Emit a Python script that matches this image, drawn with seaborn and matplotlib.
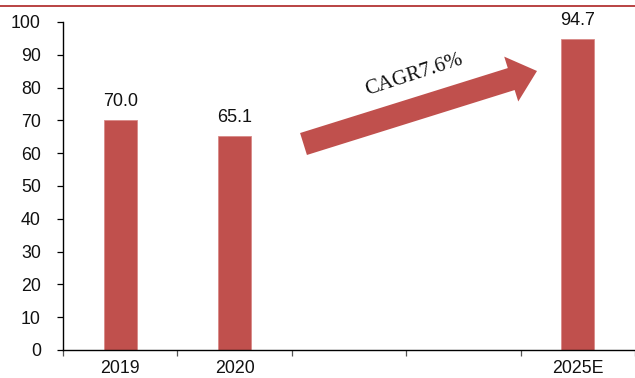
import numpy as np
import pandas as pd
import seaborn as sns
import matplotlib
matplotlib.use("Agg")
import matplotlib.pyplot as plt
from matplotlib.patches import FancyArrow
from matplotlib.lines import Line2D

# Market size by year (gap slots keep the 2021-2024 spacing on the axis)
slots = ["2019", "2020", "gap_a", "gap_b", "2025E"]
tick_labels = ["2019", "2020", "", "", "2025E"]
years = ["2019", "2020", "2025E"]
values = [70.0, 65.1, 94.7]
cagr_text = "CAGR7.6%"

bar_color = "#C0504D"
rule_color = "#A50F0F"

sns.set_theme(style="white")
plt.rcParams["font.family"] = ["Liberation Sans", "DejaVu Sans"]

W, H, DPI = 635, 378, 100
fig = plt.figure(figsize=(W / DPI, H / DPI), dpi=DPI)
ax = fig.add_axes([63 / W, (H - 350) / H, 1 - 63 / W, (350 - 22) / H])

df = pd.DataFrame({"year": years, "value": values})
sns.barplot(data=df, x="year", y="value", order=slots, color=bar_color,
            saturation=1, width=0.285, ax=ax, edgecolor="#D98A88", linewidth=0.6)

ax.bar_label(ax.containers[0], labels=[f"{v:.1f}" for v in values],
             padding=7.5, fontsize=13, color="#111111")

ax.set_xlim(-0.5, len(slots) - 0.5)
ax.set_ylim(0, 100)
ax.set_yticks(np.arange(0, 101, 10))
ax.set_xticks(range(len(slots)))
ax.set_xticklabels(tick_labels)
ax.set_xticks(np.arange(-0.5, len(slots), 1.0), minor=True)
ax.set_xlabel("")
ax.set_ylabel("")

for side in ("top", "right"):
    ax.spines[side].set_visible(False)
for side in ("left", "bottom"):
    ax.spines[side].set_color("black")
    ax.spines[side].set_linewidth(1.0)

ax.tick_params(axis="y", which="major", direction="out", length=4, width=0.9,
               color="black", left=True, labelsize=12.8, pad=12, labelcolor="#111111")
ax.tick_params(axis="x", which="major", length=0, labelsize=12.8, pad=7.5,
               labelcolor="#111111")
ax.tick_params(axis="x", which="minor", direction="out", length=4, width=0.9,
               color="#555555", bottom=True)

# growth arrow with CAGR note
px = fig.dpi_scale_trans
tail = (303.5, H - 144)
tip = (537, H - 71)
arrow = FancyArrow(tail[0] / DPI, tail[1] / DPI,
                   (tip[0] - tail[0]) / DPI, (tip[1] - tail[1]) / DPI,
                   width=23 / DPI, head_width=47 / DPI, head_length=27 / DPI,
                   length_includes_head=True, transform=px,
                   color=bar_color, linewidth=0)
fig.add_artist(arrow)
fig.text(414 / W, (H - 75) / H, cagr_text, rotation=18, ha="center", va="center",
         fontsize=15, family=["Liberation Serif", "DejaVu Serif"], color="#111111",
         rotation_mode="anchor")

# header rule across the top
fig.add_artist(Line2D([0, 1], [1 - 6 / H, 1 - 6 / H], transform=fig.transFigure,
                      color=rule_color, linewidth=1.1))

fig.savefig("out.png", dpi=DPI)
